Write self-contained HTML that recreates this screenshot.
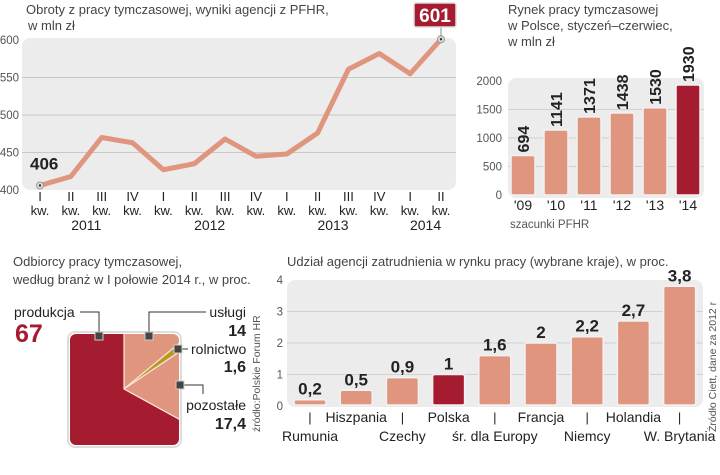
<!DOCTYPE html>
<html><head><meta charset="utf-8"><style>
html,body{margin:0;padding:0;background:#fff;width:720px;height:475px;overflow:hidden;}
svg{display:block;font-family:"Liberation Sans Narrow","Liberation Sans",sans-serif;}
.t{fill:#444;font-size:13px;}
.ax{fill:#555;font-size:11.5px;}
.lb{fill:#222;font-size:13px;}
.v{fill:#222;font-size:16px;font-weight:bold;}
</style></head><body>
<svg id="s" width="720" height="475" viewBox="0 0 720 475">
<defs>
<clipPath id="sq"><rect x="70" y="334" width="109" height="111" rx="6"/></clipPath>
</defs>
<g>
<text class="t" x="26" y="14">Obroty  z pracy tymczasowej, wyniki agencji z PFHR,</text>
<text class="t" x="28" y="30">w mln zł</text>
<rect x="22" y="38" width="434" height="152" rx="8" fill="#ececec"/>
<g id="lineGrid"></g><g id="lineX"></g>
<path id="linePath" fill="none" stroke="#e0957e" stroke-width="5" stroke-linejoin="round"/>
<g id="lineMarks"></g>
</g>
<g>
<text class="t" x="508" y="14">Rynek pracy tymczasowej</text>
<text class="t" x="508" y="30">w Polsce, styczeń–czerwiec,</text>
<text class="t" x="508" y="46">w mln zł</text>
<rect x="508" y="78" width="196" height="120" rx="8" fill="#ececec"/>
<g id="mk"></g>
<text class="ax" x="510" y="228">szacunki PFHR</text>
</g>
<g>
<text class="t" x="13" y="266">Odbiorcy pracy tymczasowej,</text>
<text class="t" x="13" y="284">według branż w I połowie 2014 r., w proc.</text>
<rect x="68" y="332" width="113" height="115" rx="7" fill="#fff" stroke="#ddd" stroke-width="2"/>
<g id="pie" clip-path="url(#sq)"></g>
<g stroke="#333" stroke-width="1" fill="none">
<polyline points="80,312 99,312 99,336"/>
<polyline points="149,336 149,312 206,312"/>
<polyline points="178,349 188,349"/>
<polyline points="180,385 203,385 203,394"/>
</g>
<g fill="#444" stroke="#ccc" stroke-width="1">
<rect x="95" y="332" width="8" height="8"/><rect x="145" y="332" width="8" height="8"/>
<rect x="174" y="345" width="8" height="8"/><rect x="176" y="381" width="8" height="8"/>
</g>
<text class="lb" x="14" y="317" style="font-size:14px">produkcja</text>
<text x="15" y="342" style="font-size:25px;font-weight:bold;fill:#a51c30">67</text>
<text class="lb" x="246" y="317" text-anchor="end" style="font-size:14px">usługi</text>
<text class="v" x="246" y="336" text-anchor="end">14</text>
<text class="lb" x="191" y="354" style="font-size:14px">rolnictwo</text>
<text class="v" x="246" y="372" text-anchor="end">1,6</text>
<text class="lb" x="246" y="410" text-anchor="end" style="font-size:14px">pozostałe</text>
<text class="v" x="246" y="429" text-anchor="end">17,4</text>
<text class="ax" transform="translate(260,432) rotate(-90)" style="font-size:10.5px">źródło:Polskie Forum HR</text>
</g>
<g>
<text class="t" x="287" y="266">Udział agencji zatrudnienia w rynku pracy (wybrane kraje), w proc.</text>
<rect x="287" y="280" width="416" height="127" rx="8" fill="#ececec"/>
<g id="ct"></g>
<text class="ax" transform="translate(716,432) rotate(-90)" style="font-size:10.5px">Źródło Ciett, dane za 2012 r</text>
</g>
</svg>
<script>
const lineValues=[406,418,470,463,427,435,468,445,448,476,561,582,555,601];
const lineQuarters=["I","II","III","IV","I","II","III","IV","I","II","III","IV","I","II"];
const lineYears=["2011","2012","2013","2014"];
const lineYTicks=[400,450,500,550,600];
const marketYears=["'09","'10","'11","'12","'13","'14"];
const marketValues=[694,1141,1371,1438,1530,1930];
const marketYTicks=[0,500,1000,1500,2000];
const pieLabels=["usługi","rolnictwo","pozostałe","produkcja"];
const pieValues=[14,1.6,17.4,67];
const countryNames=["Rumunia","Hiszpania","Czechy","Polska","śr. dla Europy","Francja","Niemcy","Holandia","W. Brytania"];
const countryValues=[0.2,0.5,0.9,1,1.6,2,2.2,2.7,3.8];
const countryLabels=["0,2","0,5","0,9","1","1,6","2","2,2","2,7","3,8"];
const countryYTicks=[0,1,2,3,4];

const NS="http://www.w3.org/2000/svg";
function mk(tag,attrs,parent,text){const e=document.createElementNS(NS,tag);for(const k in attrs)e.setAttribute(k,attrs[k]);if(text!==undefined)e.textContent=text;parent.appendChild(e);return e;}
const lx=i=>40+i*(401/(lineValues.length-1));
const ly=v=>190-(v-400)*(150/200);
const lg=document.getElementById('lineGrid');
lineYTicks.forEach(t=>{
 if(t>400&&t<600){const l=mk('line',{x1:22,x2:456,y1:ly(t),y2:ly(t),stroke:'#c8c8c8','stroke-width':1},lg);
 
 }
 const tx=mk('text',{x:19,y:ly(t)+4,'text-anchor':'end',class:'ax'},lg,String(t));
 
 
});
const lX=document.getElementById('lineX');
lineQuarters.forEach((q,i)=>{
 const a=mk('text',{x:lx(i),y:201,'text-anchor':'middle',class:'lb'},lX,q);
 
 
 const b=mk('text',{x:lx(i),y:215,'text-anchor':'middle',class:'lb'},lX,'kw.');
 
 
});
lineYears.forEach((y,j)=>{
 const n=Math.min(4,lineValues.length-4*j);
 const cx=(lx(4*j)+lx(4*j+n-1))/2;
 const t=mk('text',{x:cx,y:230,'text-anchor':'middle',class:'lb',style:'font-size:14px'},lX,y);
 
 
});
document.getElementById('linePath').setAttribute('d',lineValues.map((v,i)=>(i?'L':'M')+lx(i)+','+ly(v)).join(''));
const lm=document.getElementById('lineMarks');
[0,lineValues.length-1].forEach(i=>{
 const c=mk('circle',{cx:lx(i),cy:ly(lineValues[i]),r:3.5,fill:'#ddd',stroke:'#999'},lm);
 
 
 mk('circle',{cx:lx(i),cy:ly(lineValues[i]),r:1.2,fill:'#333'},lm);
});
const t0=mk('text',{x:lx(0)-10,y:ly(lineValues[0])-16,class:'v',style:'font-size:17px'},lm,String(lineValues[0]));


const li=lineValues.length-1;
mk('line',{x1:lx(li),x2:lx(li),y1:27,y2:ly(lineValues[li])-3,stroke:'#888'},lm);
const bx=mk('rect',{x:lx(li)-27,y:3,width:42,height:24,rx:2,fill:'#a51c30',stroke:'#ddd','stroke-width':1.5},lm);


const t1=mk('text',{x:lx(li)-6,y:22,'text-anchor':'middle',fill:'#fff',style:'font-size:19px;font-weight:bold'},lm,String(lineValues[li]));


const mx=i=>523+i*33;
const my=v=>195-v*(114/2000);
const mg=document.getElementById('mk');
marketYTicks.forEach(t=>{
 if(t>0&&t<2000) mk('line',{x1:508,x2:704,y1:my(t),y2:my(t),stroke:'#d0d0d0'},mg);
 const tx=mk('text',{x:502,y:my(t)+4,'text-anchor':'end',class:'ax'},mg,String(t));
 
 
});
marketValues.forEach((v,i)=>{
 const last=i===marketValues.length-1;
 const r=mk('rect',{x:mx(i)-12,y:my(v),width:24,height:195-my(v),rx:2,fill:last?'#a51c30':'#e0957e',stroke:'#f2f2f2','stroke-width':1.5},mg);
 
 
 const t=mk('text',{transform:`translate(${mx(i)+6},${my(v)-3}) rotate(-90)`,class:'v',style:'font-size:16px'},mg,String(v));
 
 
 const x=mk('text',{x:mx(i),y:210,'text-anchor':'middle',class:'lb',style:'font-size:14px'},mg,marketYears[i]);
 
 
});
const pg=document.getElementById('pie');
const pcx=124,pcy=389,R=80;
const pieColors=['#e0957e','#b59a1e','#e0957e','#a51c30'];
const tot=pieValues.reduce((a,b)=>a+b,0);
let acc=0;
pieValues.forEach((v,i)=>{
 const a0=acc/tot*2*Math.PI, a1=(acc+v)/tot*2*Math.PI; acc+=v;
 const p=(a)=>[pcx+R*Math.sin(a),pcy-R*Math.cos(a)];
 const [x0,y0]=p(a0),[x1,y1]=p(a1);
 const s=mk('path',{d:`M${pcx},${pcy}L${x0},${y0}A${R},${R} 0 ${(a1-a0)>Math.PI?1:0} 1 ${x1},${y1}Z`,fill:pieColors[i],stroke:'#fbe3da','stroke-width':1.2},pg);
 
 
});
const cx=i=>310+i*46.2;
const cy=v=>406-v*31.5;
const cg=document.getElementById('ct');
countryYTicks.forEach(t=>{
 if(t>0&&t<4) mk('line',{x1:287,x2:703,y1:cy(t),y2:cy(t),stroke:'#d0d0d0'},cg);
 const tx=mk('text',{x:283,y:cy(t)+4,'text-anchor':'end',class:'ax'},cg,String(t));
 
 
});
countryValues.forEach((v,i)=>{
 const r=mk('rect',{x:cx(i)-16,y:cy(v),width:32,height:406-cy(v)-1,rx:2,fill:i===3?'#a51c30':'#e0957e',stroke:'#f2f2f2','stroke-width':1.5},cg);
 
 
 const t=mk('text',{x:cx(i),y:cy(v)-5,'text-anchor':'middle',class:'v',style:'font-size:17px'},cg,countryLabels[i]);
 
 
 const top=i%2===1;
 if(!top) mk('text',{x:cx(i),y:422,'text-anchor':'middle',class:'lb'},cg,'|');
 const n=mk('text',{x:cx(i),y:top?422:441,'text-anchor':'middle',class:'lb',style:'font-size:14px'},cg,countryNames[i]);
 
 
});
</script>
</body></html>
